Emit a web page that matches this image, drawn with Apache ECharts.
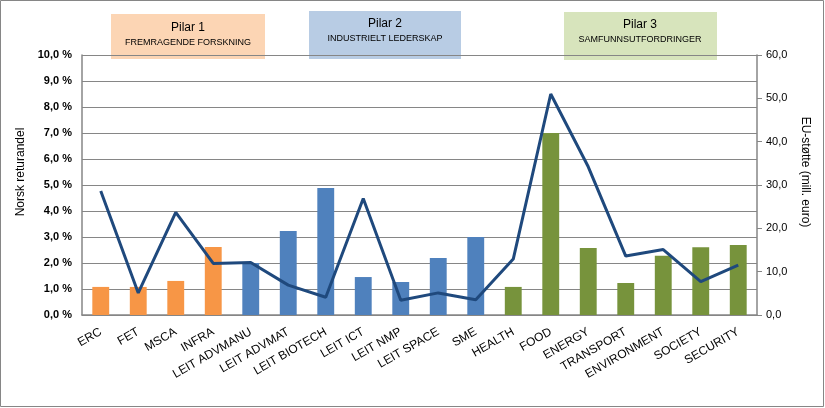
<!DOCTYPE html>
<html><head><meta charset="utf-8">
<script src="https://cdn.jsdelivr.net/npm/echarts@6/dist/echarts.min.js"></script>
<style>html,body{margin:0;padding:0;background:#fff}#c{width:825px;height:408px}</style>
</head><body><div id="c"></div>
<script>
const categories = ["ERC","FET","MSCA","INFRA","LEIT ADVMANU","LEIT ADVMAT","LEIT BIOTECH","LEIT ICT","LEIT NMP","LEIT SPACE","SME","HEALTH","FOOD","ENERGY","TRANSPORT","ENVIRONMENT","SOCIETY","SECURITY"];
const pillarOf = [1,1,1,1,2,2,2,2,2,2,2,3,3,3,3,3,3,3];
const returandel = [1.08,1.08,1.31,2.62,2.0,3.23,4.88,1.46,1.27,2.19,3.0,1.08,7.0,2.58,1.23,2.28,2.61,2.69];
const euStotte = [28.6,5.1,23.7,11.9,12.1,6.9,4.1,26.9,3.4,5.1,3.5,12.9,51.0,34.2,13.6,15.1,7.7,11.5];
const leftTicks = {min:0,max:10,interval:1};
const rightTicks = {min:0,max:60,interval:10};
const pillarColors = {1:"#F79646",2:"#4F81BD",3:"#77933C"};
const font = "Liberation Sans";

const chart = echarts.init(document.getElementById('c'), null, {renderer:'canvas'});
chart.setOption({
  animation:false,
  textStyle:{fontFamily:font},
  grid:{left:82,right:68,top:55,bottom:93},
  xAxis:{type:'category',data:categories,
    axisLine:{lineStyle:{color:'#868686',width:1.5}},
    axisTick:{show:false},
    axisLabel:{rotate:30,interval:0,fontSize:12,color:'#000',fontFamily:font,margin:16}},
  yAxis:[
    {type:'value',min:leftTicks.min,max:leftTicks.max,interval:leftTicks.interval,
     axisLine:{show:true,lineStyle:{color:'#868686',width:1.5}},axisTick:{show:false},
     axisLabel:{fontSize:11,fontWeight:'bold',color:'#000',margin:10,
       formatter:v=>v.toFixed(1).replace('.',',')+' %'},
     splitLine:{lineStyle:{color:'#868686',width:1.2}}},
    {type:'value',min:rightTicks.min,max:rightTicks.max,interval:rightTicks.interval,position:'right',
     axisLine:{show:true,lineStyle:{color:'#868686',width:1.5}},
     axisTick:{show:true,inside:false,length:5,lineStyle:{color:'#868686'}},
     axisLabel:{fontSize:11,color:'#000',margin:9,formatter:v=>v.toFixed(1).replace('.',',')},
     splitLine:{show:false}}
  ],
  series:[
    {type:'bar',yAxisIndex:0,barWidth:'45%',
     data:returandel.map((v,i)=>({value:v,itemStyle:{color:pillarColors[pillarOf[i]]}}))},
    {type:'line',yAxisIndex:1,data:euStotte,symbol:'none',
     lineStyle:{color:'#1F497D',width:3},z:5}
  ],
  graphic:[
    {type:'rect',shape:{x:0.5,y:0.5,width:823,height:406},style:{fill:'none',stroke:'#868686',lineWidth:1},silent:true},
    {type:'text',x:21,y:172,rotation:Math.PI/2,style:{text:'Norsk returandel',font:'12px '+font,fill:'#000',align:'center',verticalAlign:'middle'}},
    {type:'text',x:805,y:172,rotation:-Math.PI/2,style:{text:'EU-støtte (mill. euro)',font:'12px '+font,fill:'#000',align:'center',verticalAlign:'middle'}},
    {type:'group',children:[
      {type:'rect',shape:{x:111,y:14,width:154,height:45},style:{fill:'#FCD5B4'}},
      {type:'text',x:188,y:22,style:{text:'Pilar 1',font:'12px '+font,fill:'#000',align:'center'}},
      {type:'text',x:188,y:38,style:{text:'FREMRAGENDE FORSKNING',font:'9px '+font,fill:'#000',align:'center'}},
      {type:'rect',shape:{x:309,y:11,width:152,height:48},style:{fill:'#B8CCE4'}},
      {type:'text',x:385,y:18,style:{text:'Pilar 2',font:'12px '+font,fill:'#000',align:'center'}},
      {type:'text',x:385,y:34,style:{text:'INDUSTRIELT LEDERSKAP',font:'9px '+font,fill:'#000',align:'center'}},
      {type:'rect',shape:{x:564,y:12,width:153,height:48},style:{fill:'#D7E4BC'}},
      {type:'text',x:640,y:19,style:{text:'Pilar 3',font:'12px '+font,fill:'#000',align:'center'}},
      {type:'text',x:640,y:35,style:{text:'SAMFUNNSUTFORDRINGER',font:'9px '+font,fill:'#000',align:'center'}}
    ]}
  ]
});
</script></body></html>
